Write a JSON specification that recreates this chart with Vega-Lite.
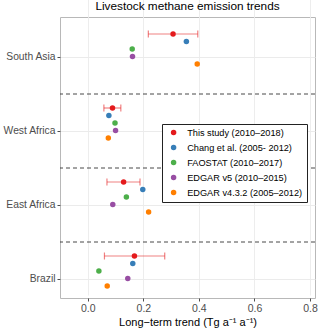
{
  "$schema": "https://vega.github.io/schema/vega-lite/v6.json",
  "width": 255,
  "height": 281,
  "autosize": {"type": "none"},
  "padding": {"left": 60, "top": 17, "right": 5, "bottom": 31},
  "title": {"text": "Livestock methane emission trends", "fontSize": 11.8, "fontWeight": "normal", "font": "Liberation Sans", "color": "#000000", "anchor": "middle", "offset": 4},
  "config": {
    "font": "Liberation Sans",
    "view": {"stroke": "#b8b8b8", "strokeWidth": 1},
    "axis": {"domain": false, "labelFont": "Liberation Sans", "titleFont": "Liberation Sans"}
  },
  "data": {"values": [
    {"region": "South Asia", "source": "This study (2010–2018)", "value": 0.307, "lo": 0.218, "hi": 0.396},
    {"region": "South Asia", "source": "Chang et al. (2005- 2012)", "value": 0.355},
    {"region": "South Asia", "source": "FAOSTAT (2010–2017)", "value": 0.16},
    {"region": "South Asia", "source": "EDGAR v5 (2010–2015)", "value": 0.161},
    {"region": "South Asia", "source": "EDGAR v4.3.2 (2005–2012)", "value": 0.394},
    {"region": "West Africa", "source": "This study (2010–2018)", "value": 0.089, "lo": 0.058, "hi": 0.119},
    {"region": "West Africa", "source": "Chang et al. (2005- 2012)", "value": 0.076},
    {"region": "West Africa", "source": "FAOSTAT (2010–2017)", "value": 0.098},
    {"region": "West Africa", "source": "EDGAR v5 (2010–2015)", "value": 0.1},
    {"region": "West Africa", "source": "EDGAR v4.3.2 (2005–2012)", "value": 0.074},
    {"region": "East Africa", "source": "This study (2010–2018)", "value": 0.129, "lo": 0.069, "hi": 0.188},
    {"region": "East Africa", "source": "Chang et al. (2005- 2012)", "value": 0.198},
    {"region": "East Africa", "source": "FAOSTAT (2010–2017)", "value": 0.139},
    {"region": "East Africa", "source": "EDGAR v5 (2010–2015)", "value": 0.09},
    {"region": "East Africa", "source": "EDGAR v4.3.2 (2005–2012)", "value": 0.219},
    {"region": "Brazil", "source": "This study (2010–2018)", "value": 0.168, "lo": 0.06, "hi": 0.277},
    {"region": "Brazil", "source": "Chang et al. (2005- 2012)", "value": 0.162},
    {"region": "Brazil", "source": "FAOSTAT (2010–2017)", "value": 0.04},
    {"region": "Brazil", "source": "EDGAR v5 (2010–2015)", "value": 0.144},
    {"region": "Brazil", "source": "EDGAR v4.3.2 (2005–2012)", "value": 0.07}
  ]},
  "layer": [
    {
      "mark": {"type": "circle", "size": 0, "opacity": 0},
      "encoding": {
        "y": {"field": "region", "type": "nominal",
          "scale": {"domain": ["South Asia", "West Africa", "East Africa", "Brazil"], "range": [3, 299], "paddingInner": 0, "paddingOuter": 0},
          "axis": {"title": null, "labelFontSize": 10.3, "labelColor": "#4d4d4d", "tickColor": "#4d4d4d", "tickSize": 3, "labelPadding": 2, "grid": true, "gridColor": "#ebebeb", "gridWidth": 1}},
        "x": {"field": "value", "type": "quantitative",
          "scale": {"domain": [-0.1, 0.818], "nice": false, "zero": false},
          "axis": {"title": "Long−term trend (Tg a⁻¹ a⁻¹)", "titleFontSize": 11, "titleFontWeight": "normal", "titleColor": "#000000", "titlePadding": 3,
            "values": [0, 0.2, 0.4, 0.6, 0.8],
            "format": ".1f",
            "labelFontSize": 10.5, "labelColor": "#4d4d4d", "labelPadding": 2,
            "tickSize": 3, "tickColor": "#4d4d4d",
            "grid": true, "gridWidth": 0.9, "gridColor": "#ebebeb"}}
      }
    },
    {
      "mark": {"type": "rule", "color": "#333333", "strokeDash": [4, 3], "strokeWidth": 0.9},
      "transform": [{"filter": "datum.source === 'This study (2010–2018)' && datum.region !== 'Brazil'"}],
      "encoding": {
        "y": {"field": "region", "type": "nominal", "bandPosition": 1}
      }
    },
    {
      "mark": {"type": "rule", "color": "#E41A1C", "opacity": 0.55, "strokeWidth": 1.2},
      "transform": [{"filter": "isValid(datum.lo)"}],
      "encoding": {
        "y": {"field": "region", "type": "nominal"},
        "yOffset": {"field": "source", "type": "nominal"},
        "x": {"field": "lo", "type": "quantitative"},
        "x2": {"field": "hi"}
      }
    },
    {
      "mark": {"type": "tick", "color": "#E41A1C", "opacity": 0.55, "size": 7, "thickness": 1.2},
      "transform": [{"filter": "isValid(datum.lo)"}],
      "encoding": {
        "y": {"field": "region", "type": "nominal"},
        "yOffset": {"field": "source", "type": "nominal"},
        "x": {"field": "lo", "type": "quantitative"}
      }
    },
    {
      "mark": {"type": "tick", "color": "#E41A1C", "opacity": 0.55, "size": 7, "thickness": 1.2},
      "transform": [{"filter": "isValid(datum.hi)"}],
      "encoding": {
        "y": {"field": "region", "type": "nominal"},
        "yOffset": {"field": "source", "type": "nominal"},
        "x": {"field": "hi", "type": "quantitative"}
      }
    },
    {
      "mark": {"type": "circle", "size": 30, "opacity": 1},
      "encoding": {
        "y": {"field": "region", "type": "nominal"},
        "yOffset": {"field": "source", "type": "nominal",
          "scale": {"type": "point", "domain": ["This study (2010–2018)", "Chang et al. (2005- 2012)", "FAOSTAT (2010–2017)", "EDGAR v5 (2010–2015)", "EDGAR v4.3.2 (2005–2012)"], "range": [14, 44], "padding": 0}},
        "x": {"field": "value", "type": "quantitative"},
        "color": {"field": "source", "type": "nominal",
          "scale": {"domain": ["This study (2010–2018)", "Chang et al. (2005- 2012)", "FAOSTAT (2010–2017)", "EDGAR v5 (2010–2015)", "EDGAR v4.3.2 (2005–2012)"], "range": ["#E41A1C", "#377EB8", "#4DAF4A", "#984EA3", "#FF7F00"]},
          "legend": {"title": null, "orient": "none", "legendX": 102, "legendY": 107, "fillColor": "#ffffff", "strokeColor": "#222222", "padding": 4, "labelFontSize": 9.2, "labelColor": "#000000", "labelFont": "Liberation Sans", "symbolType": "circle", "symbolSize": 30, "symbolOpacity": 1, "symbolStrokeWidth": 0, "labelOffset": 9, "rowPadding": 5, "symbolOffset": 3}}
      }
    }
  ]
}
